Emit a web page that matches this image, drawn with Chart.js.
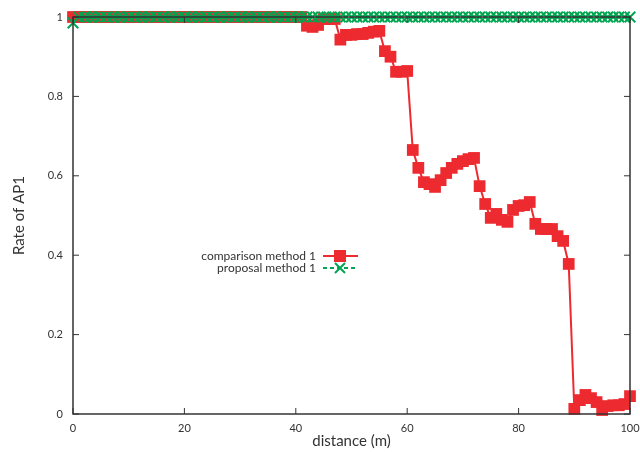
<!DOCTYPE html>
<html>
<head>
<meta charset="utf-8">
<script src="https://cdn.jsdelivr.net/npm/chart.js@4/dist/chart.umd.min.js"></script>
<style>
  body { margin: 0; background: #fff; }
  #wrap { width: 640px; height: 453px; }
</style>
</head>
<body>
<div id="wrap"><canvas id="myChart" width="640" height="453"></canvas></div>
<script>
// distance (m)
const distance = [
  0, 1, 2, 3, 4, 5, 6, 7, 8, 9,
  10, 11, 12, 13, 14, 15, 16, 17, 18, 19,
  20, 21, 22, 23, 24, 25, 26, 27, 28, 29,
  30, 31, 32, 33, 34, 35, 36, 37, 38, 39,
  40, 41, 42, 43, 44, 45, 46, 47, 48, 49,
  50, 51, 52, 53, 54, 55, 56, 57, 58, 59,
  60, 61, 62, 63, 64, 65, 66, 67, 68, 69,
  70, 71, 72, 73, 74, 75, 76, 77, 78, 79,
  80, 81, 82, 83, 84, 85, 86, 87, 88, 89,
  90, 91, 92, 93, 94, 95, 96, 97, 98, 99,
  100
];

// comparison method 1
const comparison = [
  1, 1, 1, 1, 1, 1, 1, 1, 1, 1,
  1, 1, 1, 1, 1, 1, 1, 1, 1, 1,
  1, 1, 1, 1, 1, 1, 1, 1, 1, 1,
  1, 1, 1, 1, 1, 1, 1, 1, 1, 1,
  1, 1, 0.978, 0.975, 0.98, 0.995, 0.995, 0.995, 0.943, 0.955,
  0.955, 0.957, 0.957, 0.96, 0.963, 0.965, 0.914, 0.9, 0.862, 0.862,
  0.864, 0.665, 0.62, 0.584, 0.579, 0.572, 0.589, 0.607, 0.62, 0.63,
  0.637, 0.642, 0.645, 0.574, 0.529, 0.494, 0.504, 0.489, 0.484, 0.514,
  0.524, 0.526, 0.534, 0.479, 0.466, 0.466, 0.466, 0.448, 0.436, 0.378,
  0.013, 0.035, 0.048, 0.04, 0.03, 0.01, 0.02, 0.022, 0.022, 0.025,
  0.045
];

// proposal method 1
const proposal = [
  0.985, 1, 1, 1, 1, 1, 1, 1, 1, 1,
  1, 1, 1, 1, 1, 1, 1, 1, 1, 1,
  1, 1, 1, 1, 1, 1, 1, 1, 1, 1,
  1, 1, 1, 1, 1, 1, 1, 1, 1, 1,
  1, 1, 1, 1, 1, 1, 1, 1, 1, 1,
  1, 1, 1, 1, 1, 1, 1, 1, 1, 1,
  1, 1, 1, 1, 1, 1, 1, 1, 1, 1,
  1, 1, 1, 1, 1, 1, 1, 1, 1, 1,
  1, 1, 1, 1, 1, 1, 1, 1, 1, 1,
  1, 1, 1, 1, 1, 1, 1, 1, 1, 1,
  1
];

const xTicks = [0, 20, 40, 60, 80, 100];
const yTicks = [0, 0.2, 0.4, 0.6, 0.8, 1];

const RED = '#ed2a2f';
const GREEN = '#00a651';
const AXIS = '#333333';
const FONT = 'Lato, "Liberation Sans", sans-serif';

// frame, inward ticks, axis titles and the legend (gnuplot look)
const framePlugin = {
  id: 'frame',
  afterDraw(chart) {
    const ctx = chart.ctx;
    const a = chart.chartArea;
    const xs = chart.scales.x;
    const ys = chart.scales.y;
    ctx.save();
    ctx.strokeStyle = AXIS;
    ctx.lineWidth = 1.5;
    ctx.strokeRect(a.left, a.top, a.right - a.left, a.bottom - a.top);
    ctx.lineWidth = 1;
    ctx.beginPath();
    xTicks.forEach(v => {
      const px = xs.getPixelForValue(v);
      ctx.moveTo(px, a.bottom); ctx.lineTo(px, a.bottom - 6);
      ctx.moveTo(px, a.top); ctx.lineTo(px, a.top + 6);
    });
    yTicks.forEach(v => {
      const py = ys.getPixelForValue(v);
      ctx.moveTo(a.left, py); ctx.lineTo(a.left + 6, py);
      ctx.moveTo(a.right, py); ctx.lineTo(a.right - 6, py);
    });
    ctx.stroke();

    // axis titles
    ctx.fillStyle = AXIS;
    ctx.font = '15px ' + FONT;
    ctx.textAlign = 'center';
    ctx.textBaseline = 'middle';
    ctx.fillText('distance (m)', (a.left + a.right) / 2, 441);
    ctx.save();
    ctx.translate(19, (a.top + a.bottom) / 2);
    ctx.rotate(-Math.PI / 2);
    ctx.fillText('Rate of AP1', 0, 0);
    ctx.restore();

    // legend
    ctx.font = '12px ' + FONT;
    ctx.textAlign = 'right';
    ctx.fillText('comparison method 1', 316, 256);
    ctx.fillText('proposal method 1', 316, 268);

    ctx.strokeStyle = RED;
    ctx.lineWidth = 2;
    ctx.beginPath();
    ctx.moveTo(323, 256); ctx.lineTo(358, 256);
    ctx.stroke();
    ctx.fillStyle = RED;
    ctx.fillRect(334, 250, 12, 12);

    ctx.strokeStyle = GREEN;
    ctx.setLineDash([4, 3]);
    ctx.beginPath();
    ctx.moveTo(323, 268); ctx.lineTo(358, 268);
    ctx.stroke();
    ctx.setLineDash([]);
    ctx.beginPath();
    ctx.moveTo(335, 263); ctx.lineTo(345, 273);
    ctx.moveTo(345, 263); ctx.lineTo(335, 273);
    ctx.stroke();
    ctx.restore();
  }
};

const data = {
  datasets: [
    {
      label: 'proposal method 1',
      data: distance.map((d, i) => ({ x: d, y: proposal[i] })),
      borderColor: GREEN,
      backgroundColor: GREEN,
      borderWidth: 2,
      borderDash: [4, 3],
      pointStyle: 'crossRot',
      pointRadius: 7.5,
      pointBorderWidth: 2,
      pointBorderColor: GREEN,
      clip: false,
      order: 0
    },
    {
      label: 'comparison method 1',
      data: distance.map((d, i) => ({ x: d, y: comparison[i] })),
      borderColor: RED,
      backgroundColor: RED,
      borderWidth: 2,
      pointStyle: 'rect',
      pointRadius: 8.3,
      pointBorderWidth: 0,
      clip: false,
      order: 1
    }
  ]
};

const config = {
  type: 'line',
  data: data,
  options: {
    responsive: false,
    animation: false,
    layout: { padding: { left: 0, right: 10, top: 17, bottom: 0 } },
    plugins: {
      legend: { display: false },
      tooltip: { enabled: false }
    },
    scales: {
      x: {
        type: 'linear',
        min: 0,
        max: 100,
        border: { display: false },
        grid: { display: false, drawTicks: false },
        afterBuildTicks: s => { s.ticks = xTicks.map(v => ({ value: v })); },
        afterFit: s => { s.height = 39; s.paddingLeft = 0; s.paddingRight = 0; },
        ticks: {
          color: AXIS,
          padding: 8,
          maxRotation: 0,
          font: { family: FONT, size: 11 },
          callback: v => String(v)
        }
      },
      y: {
        type: 'linear',
        min: 0,
        max: 1,
        border: { display: false },
        grid: { display: false, drawTicks: false },
        afterBuildTicks: s => { s.ticks = yTicks.map(v => ({ value: v })); },
        afterFit: s => { s.width = 73; s.paddingTop = 0; s.paddingBottom = 0; },
        ticks: {
          color: AXIS,
          padding: 10,
          font: { family: FONT, size: 11 },
          callback: v => String(+v.toFixed(1))
        }
      }
    }
  },
  plugins: [framePlugin]
};

const myChart = new Chart(document.getElementById('myChart'), config);
</script>
</body>
</html>
